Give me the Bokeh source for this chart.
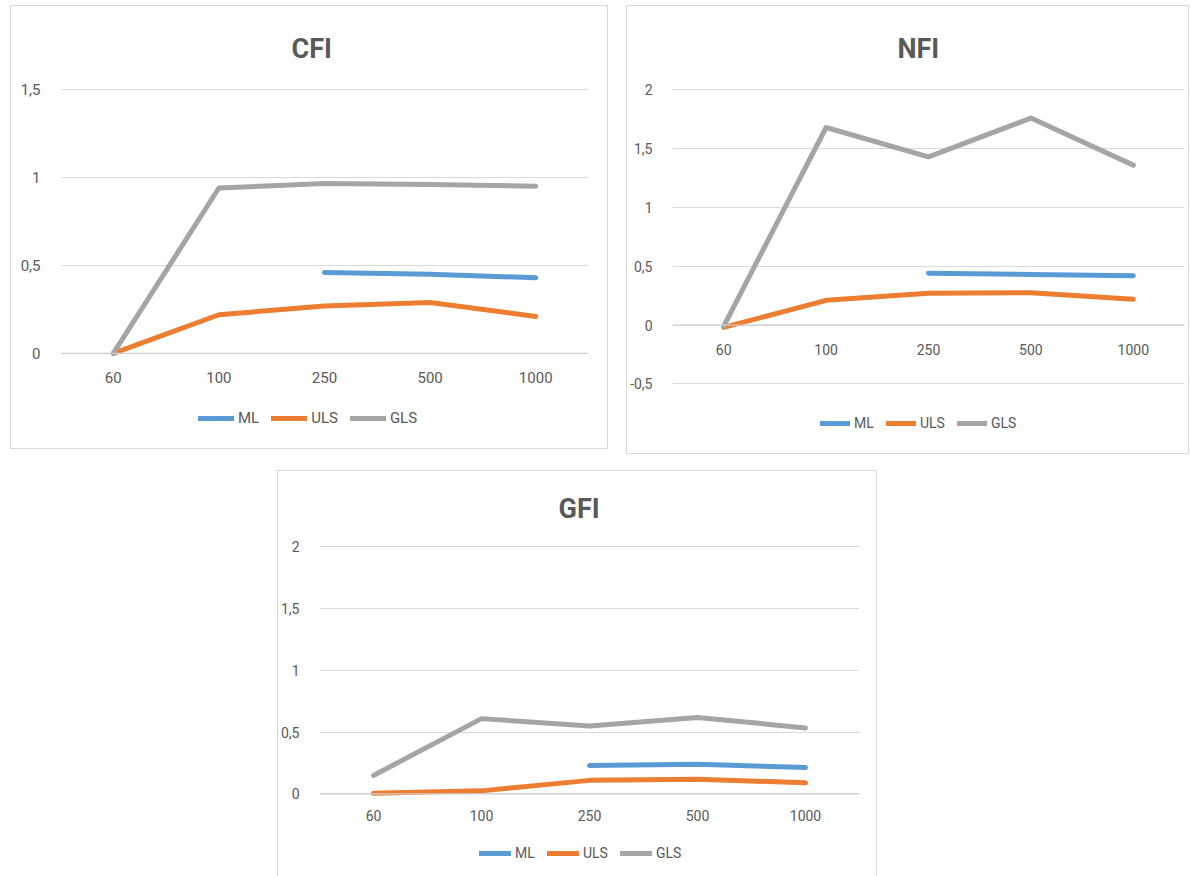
import numpy as np
from bokeh.plotting import figure
from bokeh.models import FactorRange, Range1d, FixedTicker, Span, Legend, LegendItem, Title, Spacer, ColumnDataSource
from bokeh.layouts import column, row
from bokeh.core.properties import value
from bokeh.embed import file_html
from bokeh.resources import INLINE

# ---------------- data ----------------
sample_sizes = ["60", "100", "250", "500", "1000"]
series_names = ["ML", "ULS", "GLS"]
series_colors = ["#5B9BD5", "#ED7D31", "#A5A5A5"]

cfi_ml = [np.nan, np.nan, 0.46, 0.45, 0.43]
cfi_uls = [0.0, 0.22, 0.27, 0.29, 0.21]
cfi_gls = [0.0, 0.94, 0.965, 0.96, 0.95]

nfi_ml = [np.nan, np.nan, 0.44, 0.43, 0.42]
nfi_uls = [-0.02, 0.21, 0.27, 0.275, 0.22]
nfi_gls = [-0.01, 1.68, 1.43, 1.76, 1.36]

gfi_ml = [np.nan, np.nan, 0.23, 0.24, 0.215]
gfi_uls = [0.005, 0.025, 0.11, 0.12, 0.09]
gfi_gls = [0.15, 0.61, 0.55, 0.62, 0.535]

cfi_ticks = [0, 0.5, 1, 1.5]
cfi_tick_labels = ["0", "0,5", "1", "1,5"]
nfi_ticks = [-0.5, 0, 0.5, 1, 1.5, 2]
nfi_tick_labels = ["-0,5", "0", "0,5", "1", "1,5", "2"]
gfi_ticks = [0, 0.5, 1, 1.5, 2]
gfi_tick_labels = ["0", "0,5", "1", "1,5", "2"]

TEXT = "#595959"
GRID = "#d9d9d9"
FONT = "Roboto"


def make_panel(title, series, ticks, tick_labels, y_start, y_end, width, height,
               borders, title_offset, title_standoff, legend_xy, glyph_w,
               font_px, label_offset, css):
    b_left, b_right, b_top, b_bottom = borders
    p = figure(width=width, height=height,
               x_range=FactorRange(*sample_sizes, range_padding=0),
               y_range=Range1d(y_start, y_end),
               output_backend="svg", toolbar_location=None,
               min_border_left=b_left, min_border_right=b_right,
               min_border_top=b_top, min_border_bottom=b_bottom,
               border_fill_color=None, background_fill_color=None,
               outline_line_color=None)
    p.styles = {"box-shadow": css}

    p.title = Title(text=title, align="left", offset=title_offset,
                    standoff=title_standoff, text_font=FONT,
                    text_font_size="27px", text_font_style="bold",
                    text_color=TEXT)

    # y axis
    p.yaxis.ticker = FixedTicker(ticks=ticks)
    p.yaxis.major_label_overrides = dict(zip(ticks, tick_labels))
    p.yaxis.axis_line_color = None
    p.yaxis.major_tick_line_color = None
    p.yaxis.minor_tick_line_color = None
    p.yaxis.major_label_standoff = 14
    p.yaxis.major_label_text_font = FONT
    p.yaxis.major_label_text_font_size = f"{font_px}px"
    p.yaxis.major_label_text_color = TEXT

    p.ygrid.ticker = FixedTicker(ticks=ticks)
    p.ygrid.grid_line_color = GRID
    p.ygrid.grid_line_width = 1
    p.xgrid.grid_line_color = None

    p.add_layout(Span(location=0, dimension="width", line_color="#cfcfcf", line_width=1.3))

    # category labels sit under the value-0 axis line
    p.xaxis.visible = False
    p.text(x=sample_sizes, y=[0.0 for _ in sample_sizes], text=sample_sizes,
           text_align="center", text_baseline="middle", y_offset=label_offset,
           text_font=value(FONT), text_font_size=f"{font_px}px", text_color=TEXT)

    items = []
    for name, color, vals in zip(series_names, series_colors, series):
        src = ColumnDataSource(dict(x=sample_sizes, y=np.array(vals, dtype=float)))
        r = p.line("x", "y", source=src, line_color=color, line_width=5,
                   line_cap="round", line_join="round")
        items.append(LegendItem(label=name, renderers=[r]))

    legend = Legend(items=items, location=legend_xy, orientation="horizontal",
                    margin=0, padding=0, spacing=12, glyph_width=glyph_w,
                    glyph_height=20, label_standoff=4, label_height=20,
                    border_line_color=None, background_fill_alpha=0,
                    label_text_font=FONT, label_text_font_size=f"{font_px}px",
                    label_text_color=TEXT)
    p.add_layout(legend)
    return p


cfi = make_panel("CFI", [cfi_ml, cfi_uls, cfi_gls], cfi_ticks, cfi_tick_labels,
                 -0.523, 1.511, 598, 444, (50, 20, 82, 4), 231, 46, (138, 17), 36,
                 15, 24, "inset 0 0 0 1px #d9d9d9")
nfi = make_panel("NFI", [nfi_ml, nfi_uls, nfi_gls], nfi_ticks, nfi_tick_labels,
                 -1.0667, 2.02, 563, 449, (46, 5, 82, 4), 225, 46, (148, 17), 30,
                 14, 24, "inset 0 0 0 1px #d9d9d9")
gfi = make_panel("GFI", [gfi_ml, gfi_uls, gfi_gls], gfi_ticks, gfi_tick_labels,
                 -0.636, 2.02, 600, 406, (42, 18, 74, 4), 239, 40, (160, 9), 32,
                 14, 22, "inset 1px 1px 0 #d9d9d9, inset -1px 0 0 #d9d9d9")

layout = column(
    Spacer(height=5),
    row(Spacer(width=10), cfi, Spacer(width=18), nfi),
    Spacer(height=16),
    row(Spacer(width=277), gfi),
)

open("out.html", "w").write(file_html(layout, INLINE))
